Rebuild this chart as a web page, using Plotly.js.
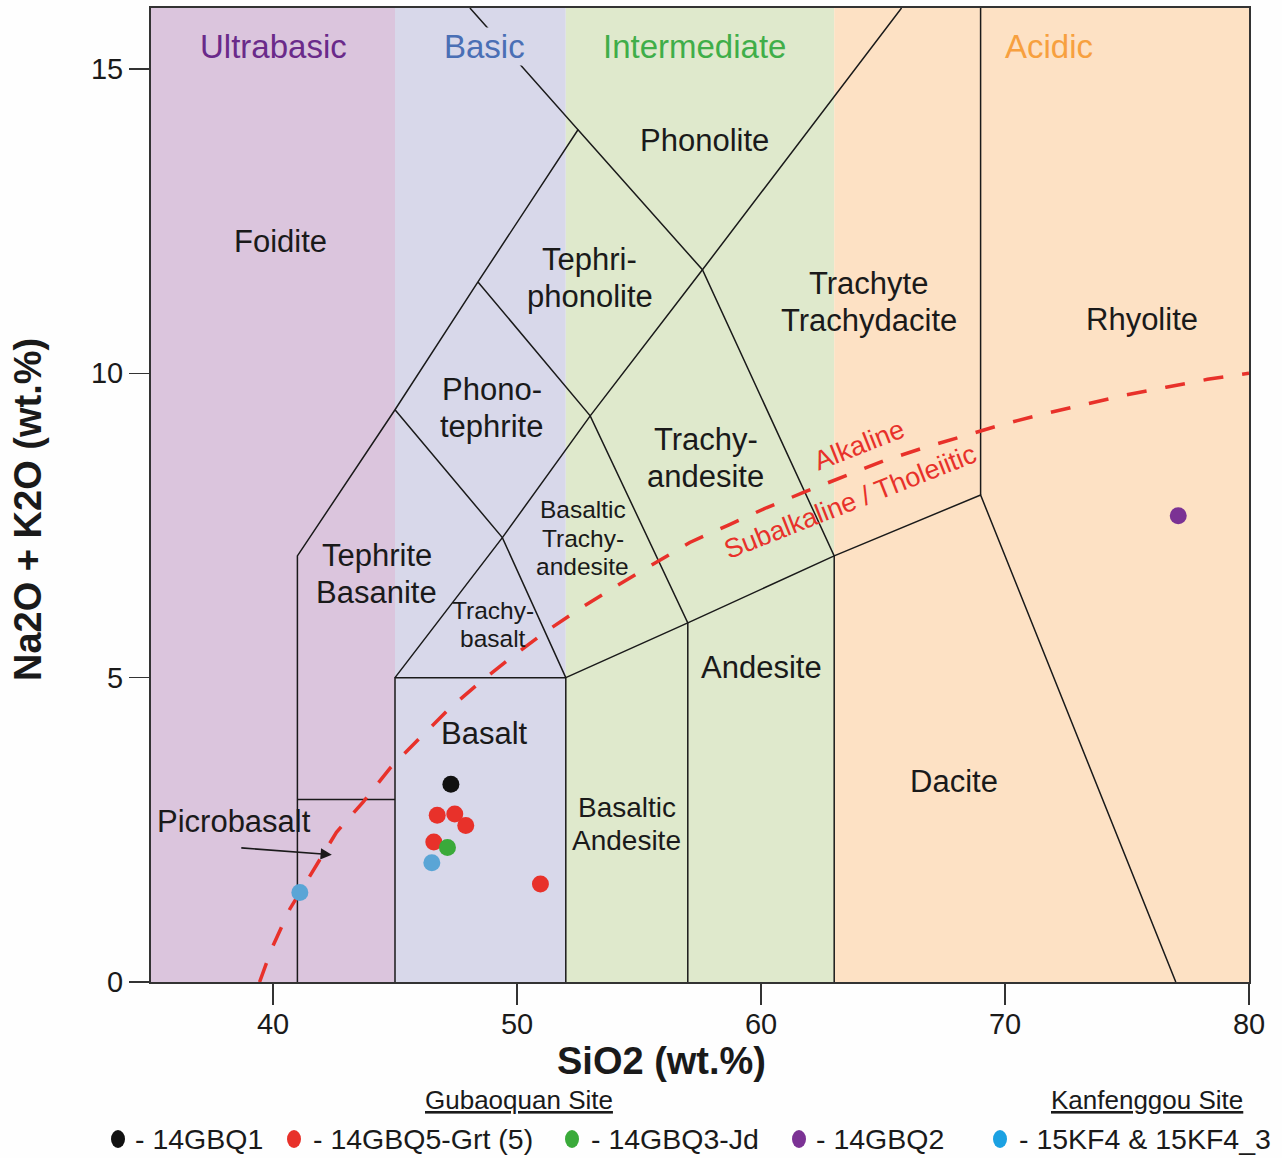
<!DOCTYPE html>
<html>
<head>
<meta charset="utf-8">
<script src="https://cdn.plot.ly/plotly-3.0.1.min.js"></script>
<style>html,body{margin:0;padding:0;background:#fff;}#chart{width:1282px;height:1158px;}</style>
</head>
<body>
<div id="chart"></div>
<script>
// ---------- DATA ----------
// Samples (SiO2, Na2O+K2O)
const gbq1X = [47.29];            const gbq1Y = [3.25];
const gbq5X = [46.73, 47.45, 47.90, 46.59, 50.96];
const gbq5Y = [2.74, 2.76, 2.57, 2.30, 1.61];
const gbq3X = [47.15];            const gbq3Y = [2.21];
const gbq2X = [77.1];             const gbq2Y = [7.66];
const kf4X  = [46.51, 41.10];     const kf4Y  = [1.96, 1.47];

// Alkaline / Subalkaline divide
const divideX = [39.45, 39.97, 40.69, 41.61, 42.6, 43.7, 44.79, 46.0, 47.2, 48.5, 49.86, 51.23, 52.64, 54.14, 55.6, 57.08, 58.69, 60.22, 61.79, 63.36, 65.02, 66.63, 68.27, 69.91, 71.55, 73.25, 74.92, 76.6, 78.3, 80.0];
const divideY = [0.0, 0.57, 1.2, 1.8, 2.46, 2.96, 3.51, 4.0, 4.48, 4.93, 5.36, 5.77, 6.15, 6.52, 6.87, 7.22, 7.51, 7.79, 8.05, 8.3, 8.56, 8.77, 8.97, 9.16, 9.33, 9.49, 9.64, 9.77, 9.9, 10.0];

// TAS field boundaries
const bndAX = [41, 41, 45, 48.4, 52.5, 48.07];  const bndAY = [0, 7, 9.4, 11.5, 14, 16];
const bndBX = [41, 45];                         const bndBY = [3, 3];
const bndCX = [45, 45, 52, 52];                 const bndCY = [0, 5, 5, 0];
const bndDX = [45, 49.4, 53, 57.6, 65.76];      const bndDY = [5, 7.3, 9.3, 11.7, 16];
const bndEX = [45, 49.4, 52];                   const bndEY = [9.4, 7.3, 5];
const bndFX = [48.4, 53, 57, 57];               const bndFY = [11.5, 9.3, 5.9, 0];
const bndGX = [52.5, 57.6, 63, 63];             const bndGY = [14, 11.7, 7, 0];
const bndHX = [52, 57, 63, 69, 77.0];           const bndHY = [5, 5.9, 7, 8, 0];
const bndIX = [69, 69];                         const bndIY = [8, 16];

// Silica classes (SiO2 bounds) and label anchors
const classNames = ['Ultrabasic', 'Basic', 'Intermediate', 'Acidic'];
const classLo = [35, 45, 52, 63];
const classHi = [45, 52, 63, 80];
const classLabelX = [40.0, 48.68, 57.28, 71.82];
const classLabelY = [15.36, 15.36, 15.36, 15.36];

// Field names and label anchor points
const fieldNames = ['Foidite', 'Phonolite', 'Tephri-<br>phonolite', 'Phono-<br>tephrite', 'Trachyte<br>Trachydacite', 'Rhyolite', 'Trachy-<br>andesite', 'Tephrite<br>Basanite', 'Andesite', 'Basalt', 'Dacite', 'Picrobasalt'];
const fieldX = [40.32, 57.69, 52.98, 48.97, 64.41, 75.63, 57.73, 44.26, 60.03, 48.68, 67.89, 38.4];
const fieldY = [12.17, 13.82, 11.57, 9.43, 11.17, 10.88, 8.61, 6.70, 5.17, 4.09, 3.29, 2.63];
const midNames = ['Basaltic<br>Andesite'];
const midX = [54.5];
const midY = [2.6];
const smallNames = ['Basaltic<br>Trachy-<br>andesite', 'Trachy-<br>basalt'];
const smallX = [52.69, 49.01];
const smallY = [7.29, 5.87];

const xTicks = [40, 50, 60, 70, 80];
const yTicks = [0, 5, 10, 15];

const legendNames = ['- 14GBQ1', '- 14GBQ5-Grt (5)', '- 14GBQ3-Jd', '- 14GBQ2', '- 15KF4 & 15KF4_3'];

// ---------- STYLE ----------
const FONT = 'Arial, "Liberation Sans", sans-serif';
const classFill = ['#dbc5dd', '#d8d8ea', '#dfe9cc', '#fde1c4'];
const classText = ['#6a2a8a', '#4a6fb5', '#3fae49', '#f7a03f'];
const sampleColors = ['#111111', '#e8312a', '#3aaa3a', '#7b3294', '#5aa5d6'];
const legendColors = ['#111111', '#e8312a', '#3aaa3a', '#7b3294', '#1ba1e2'];

const bnds = [[bndAX,bndAY],[bndBX,bndBY],[bndCX,bndCY],[bndDX,bndDY],[bndEX,bndEY],[bndFX,bndFY],[bndGX,bndGY],[bndHX,bndHY],[bndIX,bndIY]];
const traces = [];
bnds.forEach(b => traces.push({x:b[0], y:b[1], type:'scatter', mode:'lines', line:{color:'#1a1a1a', width:1.5}, hoverinfo:'skip', showlegend:false}));
traces.push({x:divideX, y:divideY, type:'scatter', mode:'lines', line:{color:'#e8312a', width:3.5, dash:'20px,19px'}, hoverinfo:'skip', showlegend:false});

const sets = [[gbq1X,gbq1Y],[gbq5X,gbq5Y],[gbq3X,gbq3Y],[gbq2X,gbq2Y],[kf4X,kf4Y]];
sets.forEach((s,i) => traces.push({x:s[0], y:s[1], type:'scatter', mode:'markers', name:legendNames[i],
  marker:{color:sampleColors[i], size:17, line:{width:0}}, showlegend:false}));

// Background shapes
const shapes = [];
classNames.forEach((c,i) => shapes.push({type:'rect', xref:'x', yref:'paper', x0:classLo[i], x1:classHi[i], y0:0, y1:1, fillcolor:classFill[i], line:{width:0}, layer:'below'}));

// Paper coord helpers for the legend / titles
const L = 151, W = 1098, B = 982, H = 974;
const px = p => (p - L) / W;
const py = p => (B - p) / H;
const dotPx = [118, 294, 572, 799, 1000];
const txtPx = [133, 311, 589, 814, 1017];
dotPx.forEach((d,i) => shapes.push({type:'circle', xref:'paper', yref:'paper', xsizemode:'pixel', ysizemode:'pixel',
  xanchor:px(d), yanchor:py(1139), x0:-7, x1:7, y0:-9, y1:9, fillcolor:legendColors[i], line:{width:0}}));

const annotations = [];
classNames.forEach((c,i) => annotations.push({x:classLabelX[i], y:classLabelY[i], xref:'x', yref:'y', text:c, showarrow:false,
  font:{family:FONT, size:33, color:classText[i]}, bgcolor: i===1 ? classFill[1] : 'rgba(0,0,0,0)', borderpad:0}));

// multi-line labels placed line by line (to control the line spacing)
function addLabel(name, x, y, size, spacing) {
  const lines = name.split('<br>');
  const n = lines.length;
  lines.forEach((t, i) => annotations.push({x:x, y:y, text:t, showarrow:false, yshift:((n - 1) / 2 - i) * spacing,
    font:{family:FONT, size:size, color:'#1a1a1a'}}));
}
fieldNames.forEach((n,i) => addLabel(n, fieldX[i], fieldY[i], 31, 37));
midNames.forEach((n,i) => addLabel(n, midX[i], midY[i], 28, 33));
smallNames.forEach((n,i) => addLabel(n, smallX[i], smallY[i], 24.5, 28.5));

annotations.push({x:42.41, y:2.09, ax:-92, ay:-7, text:'', showarrow:true, arrowhead:2, arrowsize:1.4, arrowwidth:1.6, arrowcolor:'#1a1a1a'});
annotations.push({x:64.04, y:8.82, text:'Alkaline', textangle:-21.5, showarrow:false, font:{family:FONT, size:27, color:'#e8312a'}});
annotations.push({x:63.63, y:7.89, text:'Subalkaline / Tholeiitic', textangle:-21.5, showarrow:false, font:{family:FONT, size:27, color:'#e8312a'}});

// axis titles
annotations.push({xref:'paper', yref:'paper', x:px(661), y:py(1061), xanchor:'center', yanchor:'middle', text:'<b>SiO2 (wt.%)</b>', showarrow:false, font:{family:FONT, size:38, color:'#1a1a1a'}});
annotations.push({xref:'paper', yref:'paper', x:px(28), y:py(510), xanchor:'center', yanchor:'middle', textangle:-90, text:'<b>Na2O + K2O (wt.%)</b>', showarrow:false, font:{family:FONT, size:38, color:'#1a1a1a'}});

// legend texts
legendNames.forEach((n,i) => annotations.push({xref:'paper', yref:'paper', x:px(txtPx[i]), y:py(1139), xanchor:'left', yanchor:'middle', text:n, showarrow:false, font:{family:FONT, size:28.5, color:'#1a1a1a'}}));
annotations.push({xref:'paper', yref:'paper', x:px(519), y:py(1100), xanchor:'center', yanchor:'middle', text:'<u>Gubaoquan Site</u>', showarrow:false, font:{family:FONT, size:26, color:'#1a1a1a'}});
annotations.push({xref:'paper', yref:'paper', x:px(1147), y:py(1100), xanchor:'center', yanchor:'middle', text:'<u>Kanfenggou Site</u>', showarrow:false, font:{family:FONT, size:26, color:'#1a1a1a'}});

const layout = {
  width:1282, height:1158,
  margin:{l:151, r:33, t:8, b:176},
  paper_bgcolor:'#fefefe', plot_bgcolor:'#ffffff',
  showlegend:false,
  font:{family:FONT, color:'#1a1a1a'},
  xaxis:{range:[35,80], tickvals:xTicks, ticktext:xTicks.map(String), ticks:'outside', ticklen:21, tickwidth:1.5, tickcolor:'#333',
    showgrid:false, zeroline:false, showline:true, mirror:true, linecolor:'#333', linewidth:2, ticklabelstandoff:-6,
    tickfont:{family:FONT, size:29, color:'#1a1a1a'}, automargin:false},
  yaxis:{range:[0,16], tickvals:yTicks, ticktext:yTicks.map(String), ticks:'outside', ticklen:20, tickwidth:1.5, tickcolor:'#333',
    showgrid:false, zeroline:false, showline:true, mirror:true, linecolor:'#333', linewidth:2,
    tickfont:{family:FONT, size:29, color:'#1a1a1a'}, automargin:false},
  shapes:shapes, annotations:annotations
};
Plotly.newPlot('chart', traces, layout, {displayModeBar:false, staticPlot:true});
</script>
</body>
</html>
